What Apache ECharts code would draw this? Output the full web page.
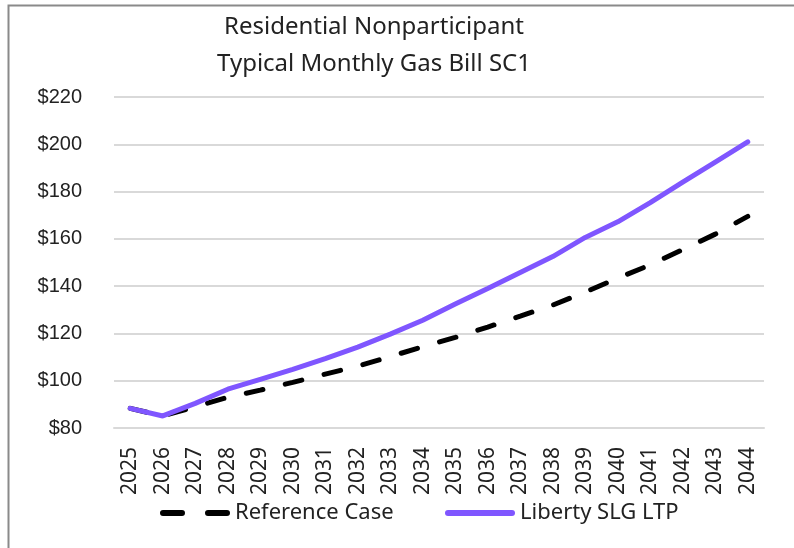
<!DOCTYPE html>
<html>
<head>
<meta charset="utf-8">
<script src="https://cdn.jsdelivr.net/npm/echarts@6/dist/echarts.min.js"></script>
<style>
  html, body { margin: 0; padding: 0; background: #fff; }
  #chart { width: 794px; height: 548px; }
</style>
</head>
<body>
<div id="chart"></div>
<script>
// data
const years = ['2025', '2026', '2027', '2028', '2029', '2030', '2031', '2032', '2033', '2034',
  '2035', '2036', '2037', '2038', '2039', '2040', '2041', '2042', '2043', '2044'];
const referenceCase = [88.3, 85.1, 89.0, 93.0, 96.0, 99.3, 102.8, 106.2, 110.2, 114.4,
  118.3, 122.7, 127.3, 132.0, 137.5, 143.4, 149.0, 155.5, 162.0, 169.5];
const libertySlgLtp = [88.3, 85.1, 90.4, 96.4, 100.6, 104.8, 109.3, 114.2, 119.7, 125.6,
  132.4, 139.0, 145.8, 152.5, 160.6, 167.2, 175.3, 184.0, 192.5, 201.0];
const titleLines = ['Residential Nonparticipant', 'Typical Monthly Gas Bill SC1'];

const myChart = echarts.init(document.getElementById('chart'));
const labelFont = 'Liberation Sans, Arial, sans-serif';
const roundFont = 'Noto Sans, sans-serif';
// legend keys: two rounded dashes, and one rounded bar
const dashIcon = 'path://M3,0H22A3,3 0 0 1 22,6H3A3,3 0 0 1 3,0Z M48,0H67A3,3 0 0 1 67,6H48A3,3 0 0 1 48,0Z';
const barIcon = 'path://M3,0H67A3,3 0 0 1 67,6H3A3,3 0 0 1 3,0Z';

const option = {
  animation: false,
  backgroundColor: '#fff',
  title: {
    text: titleLines.join('\n'),
    left: 369,
    textAlign: 'center',
    top: 4,
    textStyle: {
      fontFamily: roundFont,
      fontWeight: 'normal',
      fontSize: 24,
      lineHeight: 37,
      color: '#222'
    }
  },
  graphic: [{
    type: 'rect',
    shape: { x: 8.5, y: 5.5, width: 800, height: 600 },
    style: { fill: 'none', stroke: '#8a8a8a', lineWidth: 2 },
    silent: true
  }],
  legend: [{
    data: [{ name: 'Reference Case', icon: dashIcon }],
    left: 155,
    top: 497,
    itemWidth: 70,
    itemHeight: 6,
    itemGap: 8,
    itemStyle: { color: '#000' },
    textStyle: { fontFamily: roundFont, fontSize: 22, color: '#222' }
  }, {
    data: [{ name: 'Liberty SLG LTP', icon: barIcon }],
    left: 440,
    top: 497,
    itemWidth: 70,
    itemHeight: 6,
    itemStyle: { color: '#7f56ff' },
    textStyle: { fontFamily: roundFont, fontSize: 22, color: '#222' }
  }],
  grid: { left: 114, right: 30, top: 97, bottom: 120 },
  xAxis: {
    type: 'category',
    data: years,
    boundaryGap: true,
    axisLine: { lineStyle: { color: '#d9d9d9', width: 2 } },
    axisTick: { show: false },
    axisLabel: {
      rotate: 90,
      margin: 19,
      fontFamily: roundFont,
      fontSize: 21,
      color: '#222'
    }
  },
  yAxis: {
    type: 'value',
    min: 80,
    max: 220,
    interval: 20,
    axisLine: { show: false },
    axisTick: { show: false },
    splitLine: { lineStyle: { color: '#d9d9d9', width: 2 } },
    axisLabel: {
      margin: 32,
      fontFamily: labelFont,
      fontSize: 20,
      color: '#222',
      formatter: '${value}'
    }
  },
  series: [{
    name: 'Reference Case',
    type: 'line',
    data: referenceCase,
    symbol: 'none',
    color: '#000',
    lineStyle: { color: '#000', width: 5, type: [17, 23], cap: 'round' },
    z: 2
  }, {
    name: 'Liberty SLG LTP',
    type: 'line',
    data: libertySlgLtp,
    symbol: 'none',
    color: '#7f56ff',
    lineStyle: { color: '#7f56ff', width: 5, cap: 'round' },
    z: 3
  }]
};

myChart.setOption(option);
window.addEventListener('resize', () => {
  myChart.resize();
});
</script>
</body>
</html>
